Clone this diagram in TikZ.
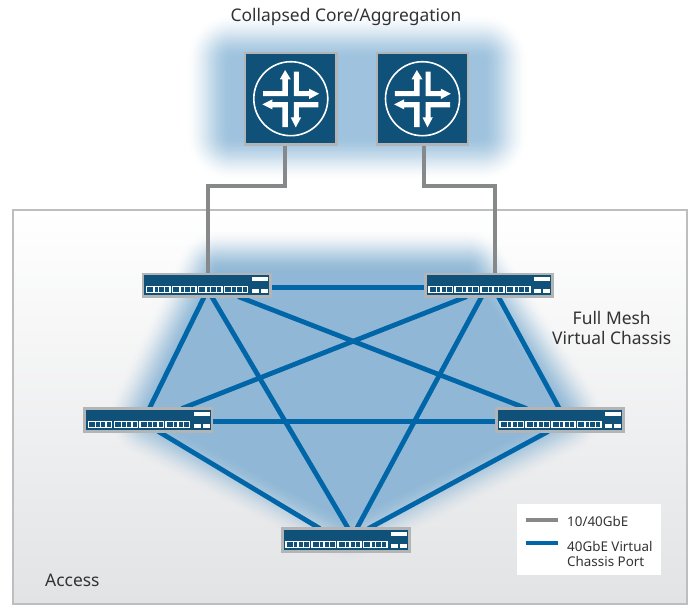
\documentclass[tikz,border=0pt]{standalone}
\usepackage{fontspec}
\setmainfont{Noto Sans}
\usetikzlibrary{calc,fadings}
\definecolor{navy}{HTML}{0F5179}
\definecolor{rim}{HTML}{B2B4B6}
\definecolor{boxrim}{HTML}{BDBEC0}
\definecolor{boxlow}{HTML}{E2E3E5}
\definecolor{linkgray}{HTML}{87888A}
\definecolor{linkblue}{HTML}{0066A8}
\definecolor{glowmesh}{HTML}{90B8D6}
\definecolor{glowtop}{HTML}{9FC3DE}
\definecolor{ink}{HTML}{333335}
\tikzset{
  x=1pt,y=-1pt,
  router/.style={draw=rim,fill=navy,line width=2.4pt,minimum width=91.5pt,minimum height=91.5pt,inner sep=0pt,outer sep=0pt},
  switchbox/.style={draw=rim,fill=navy,line width=2.6pt,minimum width=127.4pt,minimum height=22.8pt,inner sep=0pt,outer sep=0pt},
  grayline/.style={draw=linkgray,line width=4pt,line join=miter},
  blueline/.style={draw=linkblue,line width=4.8pt},
  label/.style={text=ink,font=\fontsize{17.4}{20}\selectfont,inner sep=0pt},
  small/.style={text=ink,font=\fontsize{13.4}{14.5}\selectfont,inner sep=0pt,align=left,anchor=west},
}
\newcommand{\routericon}[1]{%
  \begin{scope}[shift={(#1)},x=0.3333pt,y=-0.3333pt]
    \draw[white,line width=1.6pt] (0,0) circle[radius=37pt];
    \fill[white] (-83,-23)--(-25,-23)--(-25,-58)--(-33,-58)--(-17,-86)--(0,-58)--(-9,-58)--(-9,-8)--(-83,-8)--cycle;
    \fill[white] (9,-81)--(24,-81)--(24,-23)--(55,-23)--(55,-30)--(85,-15)--(55,1)--(55,-8)--(9,-8)--cycle;
    \fill[white] (-85,17)--(-55,2)--(-55,10)--(-9,10)--(-9,85)--(-25,85)--(-25,26)--(-55,26)--(-55,32)--cycle;
    \fill[white] (9,10)--(83,10)--(83,26)--(24,26)--(24,56)--(31,56)--(15,86)--(0,56)--(9,56)--cycle;
  \end{scope}}
\newcommand{\portgroup}[1]{%
  \fill[white] (#1,0.8) rectangle ++(24.7,7.2);
  \fill[navy] (#1+1.4,2.2) rectangle ++(6,4.4);
  \fill[navy] (#1+8.7,2.2) rectangle ++(3.4,4.4);
  \fill[navy] (#1+13.4,2.2) rectangle ++(4.4,4.4);
  \fill[navy] (#1+19.1,2.2) rectangle ++(4.2,4.4);}
\newcommand{\switchicon}[1]{%
  \begin{scope}[shift={(#1)}]
    \portgroup{-60.7}\portgroup{-34.7}\portgroup{-8.9}\portgroup{17}
    \fill[white] (45.3,-8) rectangle (61.3,-4);
    \fill[white] (45.3,4) rectangle (52.3,7.8);
    \fill[white] (54.3,4) rectangle (61.3,7.8);
  \end{scope}}
% mask body: nested opaque strokes, outermost first, ending solid on the path
\newcommand{\softmask}[2]{% reach, path
  \foreach \k in {1,...,40}{
    \pgfmathsetmacro{\prevT}{(\k-1)/40}
    \pgfmathsetmacro{\curT}{\k/40}
    \pgfmathsetmacro{\clearness}{100*(1-\curT*\curT*(3-2*\curT))}
    \pgfmathsetmacro{\wid}{2*#1*(1-\prevT)}
    \draw[color=transparent!\clearness,line width=\wid pt,line join=round] #2;
  }
  \fill[color=transparent!0] #2;}
% both masks are centred on the middle of the area they tint
\begin{tikzfadingfrompicture}[name=topfade,x=1pt,y=-1pt]
  \fill[color=transparent!100] (-230,-110) rectangle (230,110);
  \softmask{46}{(-125,-38) rectangle (125,37)}
\end{tikzfadingfrompicture}
\begin{tikzfadingfrompicture}[name=meshfade,x=1pt,y=-1pt]
  \fill[color=transparent!100] (-260,-180) rectangle (260,180);
  \softmask{44}{(-130.5,-121)--(117,-121)--(208,18)--(-3,122)--(-197.5,21)--cycle}
\end{tikzfadingfrompicture}
\begin{document}
\begin{tikzpicture}
\useasboundingbox (0,0) rectangle (691,605);
\fill[white] (0,0) rectangle (691,605);
% access area
\path[top color=white,bottom color=boxlow,draw=boxrim,line width=2pt] (13,210) rectangle (687,604);
% glows: rectangles centred at (357,98) and (350,395)
\fill[glowtop,path fading=topfade,fit fading=false,fading transform={shift={(357,98)}}] (127,-12) rectangle (587,208);
\fill[glowmesh,path fading=meshfade,fit fading=false,fading transform={shift={(350,395)}}] (90,215) rectangle (610,575);
% nodes
\node[router] (r1) at (290.8,98.7) {};
\node[router] (r2) at (422.5,98.7) {};
\node[switchbox] (s1) at (206.7,285.2) {};
\node[switchbox] (s2) at (489,285.2) {};
\node[switchbox] (s3) at (148.3,420) {};
\node[switchbox] (s4) at (560,420) {};
\node[switchbox] (s5) at (346,540) {};
% links
\draw[grayline] ($(r1.south)+(-6.3,0)$) |- ++(-77,42) -- ($(s1.north)+(0.8,0)$);
\draw[grayline] ($(r2.south)+(1.5,0)$) |- ++(71,42) -- ($(s2.north)+(6,0)$);
\draw[blueline] ($(s1.east)+(0,2.5)$) -- ($(s2.west)+(0,2.5)$);
\draw[blueline] ($(s3.east)+(0,1.5)$) -- ($(s4.west)+(0,1.5)$);
\draw[blueline] ($(s1.south)+(-2.4,0)$) -- ($(s3.north)+(1,0)$);
\draw[blueline] ($(s1.south)+(5,0)$) -- ($(s5.north)+(2.3,0)$);
\draw[blueline] ($(s1.south)+(31.6,0)$) -- ($(s4.north)+(-33.3,0)$);
\draw[blueline] ($(s2.south)+(-22.3,0)$) -- ($(s3.north)+(33.4,0)$);
\draw[blueline] ($(s2.south)+(9.3,0)$) -- ($(s4.north)+(-0.7,0)$);
\draw[blueline] ($(s2.south)+(-7.3,0)$) -- ($(s5.north)+(10.7,0)$);
\draw[blueline] ($(s3.south)+(10,0)$) -- ($(s5.north)+(-26,0)$);
\draw[blueline] ($(s4.south)+(-11.7,0)$) -- ($(s5.north)+(22.3,0)$);
\node[router] at (r1) {};
\node[router] at (r2) {};
\foreach \n in {s1,s2,s3,s4,s5}{\node[switchbox] at (\n) {}; \switchicon{\n}}
\routericon{r1}
\routericon{r2}
% labels
\node[label] (title) at (346,16.5) {Collapsed Core/Aggregation};
\node[label,align=center] (mesh) at (611.7,328) {Full Mesh\\Virtual Chassis};
\node[label,anchor=west] (access) at (45,580) {Access};
% legend
\fill[white] (517,504) rectangle (660.7,575);
\coordinate (la) at (526,519.5); \coordinate (lb) at (558,519.5);
\coordinate (lc) at (526,543); \coordinate (ld) at (558,543);
\draw[grayline] (la) -- (lb);
\draw[blueline] (lc) -- (ld);
\node[small] (t1) at (567,521) {10/40GbE};
\node[small] (t2) at (567,554) {40GbE Virtual\\Chassis Port};
\end{tikzpicture}
\end{document}
